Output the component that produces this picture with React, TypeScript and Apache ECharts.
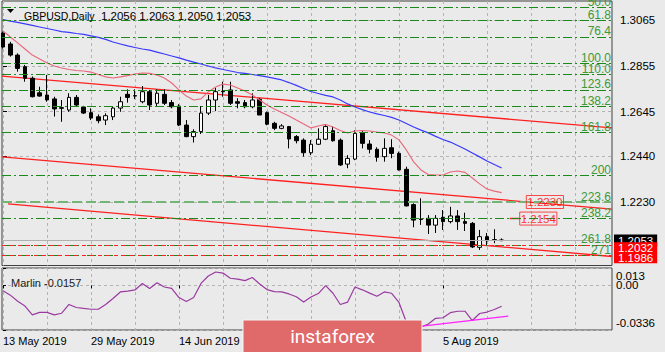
import React, { useEffect, useRef } from 'react';
import * as echarts from 'echarts';

const symbolName = 'GBPUSD';
const timeframe = 'Daily';

// Daily bars, 13 May 2019 .. 15 Aug 2019 (bar index 0..68)
const opens = [
  1.3005, 1.2955, 1.2904, 1.2851, 1.2798, 1.2731, 1.2721, 1.2703, 1.2663, 1.2652,
  1.2710, 1.2666, 1.2640, 1.2621, 1.2606, 1.2621, 1.2661, 1.2724, 1.2718, 1.2690,
  1.2736, 1.2683, 1.2724, 1.2686, 1.2670, 1.2583, 1.2530, 1.2553, 1.2638, 1.2698,
  1.2738, 1.2744, 1.2690, 1.2686, 1.2667, 1.2701, 1.2640, 1.2591, 1.2568, 1.2576,
  1.2530, 1.2514, 1.2456, 1.2495, 1.2518, 1.2557, 1.2514, 1.2404, 1.2427, 1.2548,
  1.2496, 1.2472, 1.2438, 1.2479, 1.2453, 1.2380, 1.2218, 1.2152, 1.2155, 1.2124,
  1.2160, 1.2140, 1.2166, 1.2140, 1.2132, 1.2022, 1.2071, 1.2057, 1.2056,
];
const highs = [
  1.3012, 1.2965, 1.2912, 1.2859, 1.2806, 1.2759, 1.2813, 1.2713, 1.2698, 1.2729,
  1.2721, 1.2671, 1.2660, 1.2632, 1.2637, 1.2667, 1.2713, 1.2747, 1.2747, 1.2762,
  1.2744, 1.2747, 1.2747, 1.2698, 1.2679, 1.2606, 1.2564, 1.2670, 1.2721, 1.2753,
  1.2782, 1.2782, 1.2706, 1.2698, 1.2729, 1.2707, 1.2645, 1.2598, 1.2587, 1.2579,
  1.2537, 1.2522, 1.2514, 1.2568, 1.2583, 1.2576, 1.2522, 1.2445, 1.2560, 1.2560,
  1.2514, 1.2481, 1.2522, 1.2518, 1.2461, 1.2392, 1.2224, 1.2247, 1.2170, 1.2170,
  1.2193, 1.2208, 1.2193, 1.2181, 1.2138, 1.2102, 1.2088, 1.2105, 1.2063,
];
const lows = [
  1.2934, 1.2897, 1.2828, 1.2782, 1.2710, 1.2713, 1.2690, 1.2622, 1.2598, 1.2644,
  1.2667, 1.2634, 1.2606, 1.2591, 1.2583, 1.2606, 1.2644, 1.2686, 1.2702, 1.2683,
  1.2652, 1.2670, 1.2675, 1.2660, 1.2578, 1.2527, 1.2503, 1.2542, 1.2629, 1.2647,
  1.2713, 1.2675, 1.2660, 1.2660, 1.2660, 1.2629, 1.2582, 1.2560, 1.2564, 1.2476,
  1.2499, 1.2438, 1.2445, 1.2492, 1.2514, 1.2507, 1.2395, 1.2385, 1.2422, 1.2476,
  1.2453, 1.2415, 1.2415, 1.2431, 1.2375, 1.2210, 1.2114, 1.2125, 1.2083, 1.2088,
  1.2102, 1.2132, 1.2102, 1.2097, 1.2019, 1.2010, 1.2028, 1.2041, 1.2050,
];
const closes = [
  1.2941, 1.2904, 1.2843, 1.2798, 1.2713, 1.2716, 1.2698, 1.2657, 1.2660, 1.2710,
  1.2675, 1.2638, 1.2615, 1.2603, 1.2626, 1.2661, 1.2690, 1.2710, 1.2716, 1.2736,
  1.2675, 1.2729, 1.2683, 1.2667, 1.2583, 1.2530, 1.2553, 1.2638, 1.2698, 1.2736,
  1.2736, 1.2683, 1.2683, 1.2667, 1.2698, 1.2629, 1.2587, 1.2568, 1.2579, 1.2519,
  1.2511, 1.2456, 1.2495, 1.2518, 1.2576, 1.2511, 1.2400, 1.2430, 1.2545, 1.2499,
  1.2472, 1.2435, 1.2476, 1.2453, 1.2377, 1.2212, 1.2147, 1.2150, 1.2124, 1.2155,
  1.2140, 1.2166, 1.2140, 1.2132, 1.2024, 1.2071, 1.2052, 1.2055, 1.2053,
];

// slow MA (blue) and fast MA (pink)
const slowMA = [
  1.3067, 1.3060, 1.3054, 1.3047, 1.3040, 1.3033, 1.3026, 1.3019, 1.3012, 1.3008,
  1.3003, 1.2999, 1.2992, 1.2985, 1.2976, 1.2964, 1.2955, 1.2946, 1.2939, 1.2932,
  1.2927, 1.2918, 1.2909, 1.2900, 1.2891, 1.2881, 1.2872, 1.2863, 1.2854, 1.2845,
  1.2838, 1.2831, 1.2824, 1.2820, 1.2815, 1.2810, 1.2804, 1.2797, 1.2790, 1.2778,
  1.2765, 1.2751, 1.2737, 1.2728, 1.2719, 1.2712, 1.2698, 1.2680, 1.2666, 1.2654,
  1.2643, 1.2634, 1.2627, 1.2618, 1.2606, 1.2590, 1.2574, 1.2560, 1.2547, 1.2531,
  1.2517, 1.2505, 1.2489, 1.2473, 1.2455, 1.2437, 1.2418, 1.2402, 1.2386,
];
const fastMA = [
  1.3015, 1.2987, 1.2960, 1.2932, 1.2904, 1.2886, 1.2868, 1.2854, 1.2845, 1.2838,
  1.2833, 1.2831, 1.2826, 1.2815, 1.2804, 1.2799, 1.2804, 1.2810, 1.2817, 1.2822,
  1.2820, 1.2813, 1.2799, 1.2776, 1.2744, 1.2716, 1.2698, 1.2703, 1.2735, 1.2758,
  1.2771, 1.2767, 1.2753, 1.2739, 1.2721, 1.2698, 1.2675, 1.2657, 1.2641, 1.2625,
  1.2606, 1.2588, 1.2570, 1.2579, 1.2586, 1.2574, 1.2558, 1.2547, 1.2556, 1.2558,
  1.2556, 1.2551, 1.2547, 1.2537, 1.2515, 1.2469, 1.2414, 1.2377, 1.2356, 1.2354,
  1.2354, 1.2368, 1.2372, 1.2366, 1.2340, 1.2313, 1.2290, 1.2280, 1.2273,
];

// Marlin oscillator
const marlin = [
  -0.0041, -0.0074, -0.0120, -0.0156, -0.0222, -0.0204, -0.0204, -0.0222, -0.0210, -0.0144,
  -0.0167, -0.0174, -0.0180, -0.0180, -0.0144, -0.0099, -0.0050, -0.0044, -0.0035, 0.0014,
  -0.0024, 0.0019, -0.0013, -0.0023, -0.0092, -0.0122, -0.0092, 0.0014, 0.0070, 0.0100,
  0.0092, 0.0053, 0.0047, 0.0035, 0.0059, 0.0010, -0.0032, -0.0048, -0.0050, -0.0065,
  -0.0086, -0.0126, -0.0088, -0.0062, -0.0002, -0.0060, -0.0144, -0.0126, -0.0013, -0.0034,
  -0.0059, -0.0082, -0.0050, -0.0060, -0.0129, -0.0276, -0.0321, -0.0313, -0.0291, -0.0248,
  -0.0244, -0.0206, -0.0195, -0.0195, -0.0265, -0.0212, -0.0201, -0.0182, -0.0157,
];
const marlinSupportBars = [56, 68.9];
const marlinSupportValues = [-0.0314, -0.0231];

// Fibonacci expansion levels
const fibLabels = ['50.0', '61.8', '76.4', '100.0', '110.0', '123.6', '138.2', '161.8', '200', '223.6', '238.2', '261.8', '271'];
const fibPrices = [1.3124, 1.3063, 1.2988, 1.2866, 1.2815, 1.2745, 1.2670, 1.2548, 1.2352, 1.2230, 1.2155, 1.2033, 1.1986];

// Red trend lines (start bar, start price, end bar, end price)
const trendStartBar = [-0.136, -0.136, 0.68];
const trendStartPrice = [1.2808, 1.2437, 1.2221];
const trendEndBar = [83.05, 83.05, 83.05];
const trendEndPrice = [1.2570, 1.2197, 1.1980];

// Red horizontal levels with price tags
const targetLevels = [1.2032, 1.1986];
// Boxed price notes inside the chart
const noteBars = [73.9, 73.0];
const notePrices = [1.2230, 1.2154];
const noteLineBars = [69.1, 70.5];

// Axes
const priceTicks = [1.3065, 1.2855, 1.2645, 1.2440, 1.2230];
const marlinTicks = [0.013, 0, -0.0336];
const marlinTickLabels = ['0.013', '0.00', '-0.0336'];
const gridBars = [0, 6, 12, 18, 24, 30, 36, 42, 48, 54, 60, 66, 72, 78];
// labels for bars 36 and 48 lie under the logo in the original; only the visible ones are listed
const dateTickBars = [0, 12, 24, 60];
const dateTickLabels = ['13 May 2019', '29 May 2019', '14 Jun 2019', '5 Aug 2019'];

const X_MIN = -0.136;
const X_MAX = 83.05;
const Y_MIN = 1.19387;
const Y_MAX = 1.31522;
const M_MIN = -0.0336;
const M_MAX = 0.013;

const FONT = 'Liberation Sans, Arial, sans-serif';

export default function App() {
  const ref = useRef<HTMLDivElement>(null);

  useEffect(() => {
    if (!ref.current) return;
    const chart = echarts.init(ref.current, null, { renderer: 'svg' });
    const N = closes.length;
    const f4 = (v: number) => v.toFixed(4);
    const header = `{n|${symbolName},${timeframe}}  {v|${f4(opens[N - 1])} ${f4(highs[N - 1])} ${f4(lows[N - 1])} ${f4(closes[N - 1])}}`;
    const candleData = opens.map((o, i) => [i, o, closes[i], lows[i], highs[i]]);
    const gridLine = { show: true, lineStyle: { color: '#b4b4b4', type: [3, 3] as any, width: 1 } };

    const marlinLabelAxis = (k: number, vAlign: string, padding: number[]) => ({
      gridIndex: 1, type: 'value', position: 'right', min: M_MIN - 0.00005, max: M_MAX + 0.00005, scale: true,
      axisLine: { show: false },
      axisTick: { show: false, customValues: [marlinTicks[k]] },
      axisLabel: {
        show: true, customValues: [marlinTicks[k]], margin: 4, fontSize: 11.5, lineHeight: 10, color: '#000',
        verticalAlign: vAlign, padding, showMinLabel: true, showMaxLabel: true, hideOverlap: false,
        formatter: () => marlinTickLabels[k],
      },
      splitLine: { show: false },
    });

    const option: any = {
      animation: false,
      backgroundColor: '#eaeaea',
      textStyle: { fontFamily: FONT },
      title: [
        {
          text: header, left: 19, top: 5,
          textStyle: {
            fontSize: 11.5, fontWeight: 'normal', color: '#000', fontFamily: FONT,
            rich: { n: { fontSize: 10.5, color: '#000', fontFamily: FONT }, v: { fontSize: 11.5, color: '#000', fontFamily: FONT } },
          },
        },
        { text: `Marlin ${marlin[N - 1].toFixed(4)}`, left: 6, top: 272, textStyle: { fontSize: 11, fontWeight: 'normal', color: '#222', fontFamily: FONT } },
      ],
      grid: [
        { left: 2, top: 1, width: 610, height: 264.5, show: true, borderColor: '#404040', borderWidth: 1 },
        { left: 2, top: 268, width: 610, height: 62, show: true, borderColor: '#404040', borderWidth: 1 },
      ],
      xAxis: [
        {
          gridIndex: 0, type: 'value', min: X_MIN, max: X_MAX, position: 'bottom',
          axisLine: { show: false }, axisLabel: { show: false },
          axisTick: { show: false, customValues: gridBars }, splitLine: gridLine,
        },
        {
          gridIndex: 1, type: 'value', min: X_MIN, max: X_MAX, position: 'bottom',
          axisLine: { show: false }, axisLabel: { show: false },
          axisTick: { show: false, customValues: gridBars }, splitLine: gridLine,
        },
        {
          gridIndex: 1, type: 'value', min: X_MIN, max: X_MAX, position: 'bottom',
          axisLine: { show: false },
          axisTick: { show: true, customValues: dateTickBars, length: 3, lineStyle: { color: '#000' } },
          axisLabel: {
            show: true, customValues: dateTickBars, align: 'left', margin: 5, fontSize: 11, color: '#000',
            showMinLabel: true, showMaxLabel: true,
            formatter: (v: number) => {
              const k = dateTickBars.indexOf(Math.round(v));
              return k >= 0 ? dateTickLabels[k] : '';
            },
          },
          splitLine: { show: false },
        },
      ],
      yAxis: [
        {
          gridIndex: 0, type: 'value', position: 'right', min: Y_MIN, max: Y_MAX, scale: true,
          axisLine: { show: false },
          axisTick: { show: true, customValues: priceTicks, length: 4, lineStyle: { color: '#000' } },
          axisLabel: { show: true, customValues: priceTicks, margin: 8, fontSize: 11.5, color: '#000', formatter: (v: number) => v.toFixed(4) },
          splitLine: gridLine,
        },
        {
          gridIndex: 1, type: 'value', position: 'right', min: M_MIN, max: M_MAX, scale: true,
          axisLine: { show: false },
          axisTick: { show: true, customValues: marlinTicks, length: 3, lineStyle: { color: '#000' } },
          axisLabel: {
            show: true, customValues: [marlinTicks[1]], margin: 4, fontSize: 11.5, lineHeight: 8, color: '#000',
            formatter: () => marlinTickLabels[1],
          },
          splitLine: gridLine,
        },
        marlinLabelAxis(0, 'top', [3, 0, 0, 0]),
        marlinLabelAxis(2, 'bottom', [0, 0, 2, 0]),
      ],
      series: [
        // Fibonacci levels
        {
          name: 'fibo', type: 'line', xAxisIndex: 0, yAxisIndex: 0, data: [], z: 1, silent: true,
          markLine: {
            silent: true, symbol: ['none', 'none'], animation: false, precision: 5,
            lineStyle: { color: '#1b8a1b', width: 1, type: [9, 3, 2, 3] },
            label: { show: true, position: 'insideEndTop', distance: [1, 0.5], color: '#3a9a3a', fontSize: 12, lineHeight: 10 },
            data: fibPrices.map((p, i) => ({
              yAxis: p,
              label: { formatter: fibLabels[i] },
              lineStyle: fibLabels[i] === '223.6'
                ? { color: '#74b474', width: 2.2, type: [10, 4] }
                : undefined,
            })),
          },
        },
        // red trend lines
        ...trendStartBar.map((x0, i) => ({
          name: `trend${i}`, type: 'line', xAxisIndex: 0, yAxisIndex: 0, z: 2, silent: true,
          showSymbol: false, symbol: 'none',
          lineStyle: { color: '#ff2020', width: 1.3 },
          data: [[x0, trendStartPrice[i]], [trendEndBar[i], trendEndPrice[i]]],
        })),
        // bid line with black tag
        {
          name: 'bid', type: 'line', xAxisIndex: 0, yAxisIndex: 0, data: [], z: 5, silent: true,
          markLine: {
            silent: true, symbol: ['none', 'none'], animation: false, precision: 5,
            lineStyle: { color: '#b0b0b0', width: 1, type: 'solid' },
            label: {
              show: true, position: 'end', distance: 2, color: '#fff', backgroundColor: '#000',
              fontSize: 11.5, lineHeight: 12, padding: [0, 4, 0, 4], formatter: (p: any) => Number(p.value).toFixed(4),
            },
            data: [{ yAxis: closes[N - 1] }],
          },
        },
        // red target levels with tags
        {
          name: 'targets', type: 'line', xAxisIndex: 0, yAxisIndex: 0, data: [], z: 6, silent: true,
          markLine: {
            silent: true, symbol: ['none', 'none'], animation: false, precision: 5,
            lineStyle: { color: '#ff2020', width: 1, type: [4, 4] },
            label: {
              show: true, position: 'end', distance: 2, color: '#fff', backgroundColor: '#ff0000',
              fontSize: 11.5, lineHeight: 11, padding: [0, 4, 0, 4], offset: [0, 2.5],
              formatter: (p: any) => Number(p.value).toFixed(4),
            },
            data: targetLevels.map((p) => ({ yAxis: p })),
          },
        },
        // short red line next to the 1.2154 note
        {
          name: 'noteLine', type: 'line', xAxisIndex: 0, yAxisIndex: 0, z: 2, silent: true,
          showSymbol: false, symbol: 'none', lineStyle: { color: '#ff2020', width: 1.5 },
          data: noteLineBars.map((b) => [b, notePrices[1]]),
        },
        // candles
        {
          name: symbolName, type: 'candlestick', xAxisIndex: 0, yAxisIndex: 0, z: 3,
          barWidth: 4,
          encode: { x: 0, y: [1, 2, 3, 4] },
          itemStyle: { color: '#ffffff', color0: '#000000', borderColor: '#000000', borderColor0: '#000000', borderWidth: 1 },
          data: candleData,
        },
        // moving averages
        {
          name: 'slowMA', type: 'line', xAxisIndex: 0, yAxisIndex: 0, z: 4, silent: true,
          showSymbol: false, symbol: 'none', lineStyle: { color: '#3a3aff', width: 1.2 },
          data: slowMA.map((v, i) => [i, v]),
        },
        {
          name: 'fastMA', type: 'line', xAxisIndex: 0, yAxisIndex: 0, z: 4, silent: true,
          showSymbol: false, symbol: 'none', lineStyle: { color: '#e8677a', width: 1.1 },
          data: fastMA.map((v, i) => [i, v]),
        },
        // boxed notes
        {
          name: 'notes', type: 'scatter', xAxisIndex: 0, yAxisIndex: 0, z: 7, silent: true,
          symbol: 'circle', symbolSize: 2, itemStyle: { color: 'rgba(0,0,0,0)' },
          label: {
            show: true, position: 'inside', color: '#ff0000', fontSize: 11.5, lineHeight: 12,
            borderColor: '#ff2020', borderWidth: 1, padding: [1, 1, 0, 1],
            formatter: (p: any) => Number(p.value[1]).toFixed(4),
          },
          data: noteBars.map((b, i) => [b, notePrices[i]]),
        },
        // Marlin oscillator
        {
          name: 'Marlin', type: 'line', xAxisIndex: 1, yAxisIndex: 1, z: 3, silent: true,
          showSymbol: false, symbol: 'none', lineStyle: { color: '#9a3aa0', width: 1.2 },
          data: marlin.map((v, i) => [i, v]),
        },
        {
          name: 'MarlinSupport', type: 'line', xAxisIndex: 1, yAxisIndex: 1, z: 3, silent: true,
          showSymbol: false, symbol: 'none', lineStyle: { color: '#ff22ff', width: 1.2 },
          data: marlinSupportBars.map((b, i) => [b, marlinSupportValues[i]]),
        },
      ],
      graphic: [
        {
          type: 'polygon', z: 10, silent: true,
          shape: { points: [[7, 9], [14, 9], [10.5, 13]] },
          style: { fill: '#000' },
        },
        {
          type: 'rect', zlevel: 5, z: 100, silent: true,
          shape: { x: 243, y: 320, width: 179, height: 34 },
          style: { fill: '#e06a6a', stroke: '#f4f4f4', lineWidth: 1 },
        },
        {
          type: 'text', zlevel: 5, z: 101, silent: true, x: 332.5, y: 336.5,
          style: { text: 'instaforex', fill: '#ffffff', fontSize: 19, fontFamily: 'Roboto, sans-serif', align: 'center', verticalAlign: 'middle' },
        },
      ],
    };

    chart.setOption(option);
    return () => chart.dispose();
  }, []);

  return <div ref={ref} style={{ position: 'fixed', left: 0, top: 0, width: 665, height: 352 }} />;
}
